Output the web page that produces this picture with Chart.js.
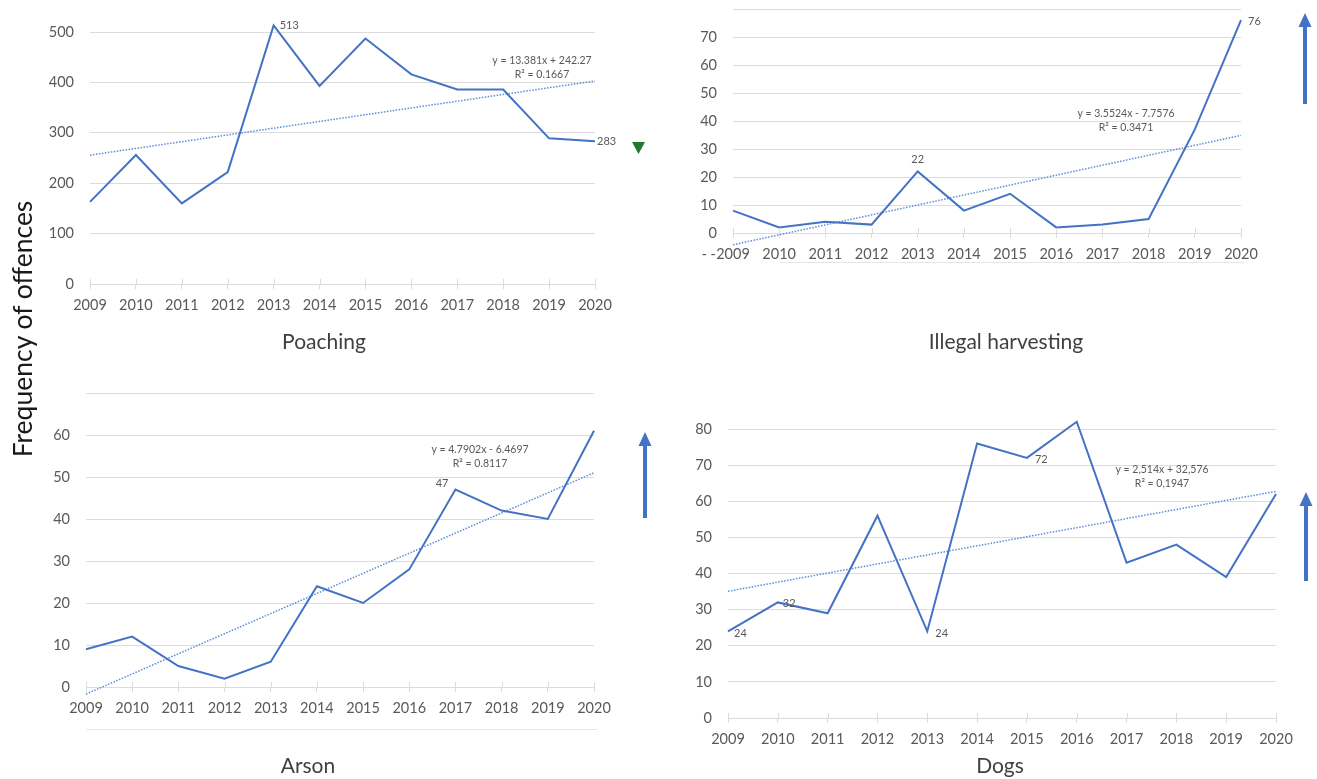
<!DOCTYPE html>
<html>
<head>
<meta charset="utf-8">
<script src="https://cdn.jsdelivr.net/npm/chart.js@4.4.1/dist/chart.umd.min.js"></script>
<style>
  html, body { margin: 0; padding: 0; background: #ffffff; }
  #wrap { position: relative; width: 1317px; height: 779px; overflow: hidden; background: #ffffff; }
  #wrap canvas { position: absolute; left: 0; top: 0; }
  #wrap svg { position: absolute; left: 0; top: 0; }
  #ylab {
    position: absolute; left: 22px; top: 329px;
    transform: translate(-50%, -50%) rotate(-90deg);
    font-family: Lato, sans-serif; font-size: 26.5px; color: #1a1a1a; white-space: nowrap;
  }
</style>
</head>
<body>
<div id="wrap">
  <canvas id="c1" width="1317" height="779"></canvas>
  <canvas id="c2" width="1317" height="779"></canvas>
  <canvas id="c3" width="1317" height="779"></canvas>
  <canvas id="c4" width="1317" height="779"></canvas>
  <div id="ylab">Frequency of offences</div>
  <svg width="1317" height="779" viewBox="0 0 1317 779">
    <!-- trend direction markers -->
    <polygon points="632,142 645,142 638.5,154" fill="#1f7a35"/>
    <line x1="1305" y1="104" x2="1305" y2="24" stroke="#4472c4" stroke-width="4"/>
    <polygon points="1298.5,27 1311.5,27 1305,13" fill="#4472c4"/>
    <line x1="645" y1="518" x2="645" y2="443" stroke="#4472c4" stroke-width="4"/>
    <polygon points="638.5,446 651.5,446 645,432" fill="#4472c4"/>
    <line x1="1306" y1="581" x2="1306" y2="503" stroke="#4472c4" stroke-width="4"/>
    <polygon points="1299.5,506 1312.5,506 1306,492" fill="#4472c4"/>
  </svg>
</div>
<script>
// Offences per year, 2009-2020
const years = ['2009','2010','2011','2012','2013','2014','2015','2016','2017','2018','2019','2020'];
const poaching   = [163, 256, 160, 222, 513, 393, 487, 416, 386, 386, 289, 283];
const harvesting = [8, 2, 4, 3, 22, 8, 14, 2, 3, 5, 37, 76];
const arson      = [9, 12, 5, 2, 6, 24, 20, 28, 47, 42, 40, 61];
const dogs       = [24, 32, 29, 56, 24, 76, 72, 82, 43, 48, 39, 62];

// Linear trendlines (x = 1..12) and their printed equations
const trendSlopes     = [13.381, 3.5524, 4.7902, 2.514];
const trendIntercepts = [242.27, -7.7576, -6.4697, 32.576];
const trendEquations  = ['y = 13.381x + 242.27', 'y = 3.5524x - 7.7576', 'y = 4.7902x - 6.4697', 'y = 2,514x + 32,576'];
const trendR2         = ['R\u00b2 = 0.1667', 'R\u00b2 = 0.3471', 'R\u00b2 = 0.8117', 'R\u00b2 = 0,1947'];

const titles = ['Poaching', 'Illegal harvesting', 'Arson', 'Dogs'];

const FONT = 'Lato, "Noto Sans", sans-serif';
const LINE_BLUE = '#4472c4';
const GRID = '#dcdcdc';
const TICK_TXT = '#595959';

const panelText = {
  id: 'panelText',
  afterDraw(chart, args, o) {
    const ctx = chart.ctx;
    const xs = chart.scales.x, ys = chart.scales.y;
    const series = chart.data.datasets[0].data;
    ctx.save();
    // category tick marks also reach a little above the axis line
    ctx.strokeStyle = GRID;
    ctx.lineWidth = 1;
    ctx.beginPath();
    years.forEach((_, i) => {
      const x = Math.round(xs.getPixelForValue(i)) + 0.5;
      ctx.moveTo(x, xs.top - 5);
      ctx.lineTo(x, xs.top);
    });
    ctx.stroke();
    // extra faint line below the category labels
    if (o.extraLine) {
      ctx.strokeStyle = '#e6e6e6';
      ctx.beginPath();
      ctx.moveTo(o.extraLine.x1, o.extraLine.y + 0.5);
      ctx.lineTo(o.extraLine.x2, o.extraLine.y + 0.5);
      ctx.stroke();
    }
    ctx.fillStyle = TICK_TXT;
    ctx.textBaseline = 'middle';
    // trendline equation
    ctx.font = '10.5px ' + FONT;
    ctx.textAlign = 'center';
    ctx.fillText(o.eq[0], o.eqX, o.eqY);
    ctx.fillText(o.eq[1], o.eqX, o.eqY + 14);
    // value labels on selected points
    ctx.font = '11px ' + FONT;
    o.points.forEach(p => {
      const x = xs.getPixelForValue(p.i);
      const y = ys.getPixelForValue(series[p.i]);
      ctx.textAlign = p.align || 'left';
      ctx.fillText(String(series[p.i]), x + p.dx, y + p.dy);
    });
    // stray dashes before the first category label
    if (o.preDash) {
      ctx.font = '14.5px ' + FONT;
      ctx.textAlign = 'right';
      ctx.fillText('- -', xs.getPixelForValue(0) - 17, xs.top + 21);
    }
    // panel title
    ctx.font = '21px ' + FONT;
    ctx.fillStyle = '#404040';
    ctx.textAlign = 'center';
    ctx.fillText(o.title, o.titleX, o.titleY);
    ctx.restore();
  }
};

function makePanel(id, series, k, cfg) {
  const trend = years.map((_, i) => trendSlopes[k] * (i + 1) + trendIntercepts[k]);
  return new Chart(document.getElementById(id), {
    type: 'line',
    data: {
      labels: years,
      datasets: [
        { data: series, borderColor: LINE_BLUE, borderWidth: 2, pointRadius: 0, tension: 0, clip: false, order: 1 },
        { data: trend, borderColor: '#5b8bd9', borderWidth: 1.5, borderDash: [1.5, 1.5], pointRadius: 0, tension: 0, clip: false, order: 2 }
      ]
    },
    options: {
      responsive: false,
      animation: false,
      events: [],
      layout: { padding: cfg.pad },
      plugins: {
        legend: { display: false },
        tooltip: { enabled: false },
        panelText: {
          title: titles[k], titleX: cfg.titleX, titleY: cfg.titleY,
          eq: [trendEquations[k], trendR2[k]], eqX: cfg.eqX, eqY: cfg.eqY,
          points: cfg.points, preDash: cfg.preDash, extraLine: cfg.extraLine
        }
      },
      scales: {
        x: {
          offset: false,
          grid: { drawOnChartArea: false, drawTicks: true, tickLength: 5, color: GRID },
          border: { display: true, color: GRID, width: 1 },
          ticks: { color: TICK_TXT, font: { family: FONT, size: 14.5 }, padding: 8, maxRotation: 0, autoSkip: false },
          afterFit(s) { s.height = 40; s.paddingLeft = 0; s.paddingRight = 0; }
        },
        y: {
          min: 0, max: cfg.max,
          grid: { color: GRID, drawTicks: false },
          border: { display: false },
          ticks: {
            stepSize: cfg.step, padding: 16, color: TICK_TXT, font: { family: FONT, size: 14.5 },
            callback: v => (cfg.hideTop && v === cfg.max) ? '' : v
          },
          afterFit(s) { s.width = 50; s.paddingTop = 0; s.paddingBottom = 0; }
        }
      }
    },
    plugins: [panelText]
  });
}

// Poaching: plot area x 90..595, y 32..284
makePanel('c1', poaching, 0, {
  pad: { left: 40, top: 32, right: 722, bottom: 455 },
  max: 500, step: 100,
  titleX: 324, titleY: 342, eqX: 542, eqY: 61,
  points: [{ i: 4, dx: 6, dy: 0 }, { i: 11, dx: 2, dy: 0 }]
});

// Illegal harvesting: plot area x 733..1241, y 9..233
makePanel('c2', harvesting, 1, {
  pad: { left: 683, top: 9, right: 76, bottom: 506 },
  max: 80, step: 10, hideTop: true,
  titleX: 1006, titleY: 342, eqX: 1126, eqY: 114,
  points: [{ i: 4, dx: 0, dy: -12, align: 'center' }, { i: 11, dx: 7, dy: 1 }],
  preDash: true,
  extraLine: { y: 262, x1: 780, x2: 1244 }
});

// Arson: plot area x 86..594, y 393..687
makePanel('c3', arson, 2, {
  pad: { left: 36, top: 393, right: 723, bottom: 52 },
  max: 70, step: 10, hideTop: true,
  titleX: 308, titleY: 766, eqX: 480, eqY: 450,
  points: [{ i: 8, dx: -7, dy: -6, align: 'right' }],
  extraLine: { y: 729, x1: 86, x2: 597 }
});

// Dogs: plot area x 728..1276, y 429..718
makePanel('c4', dogs, 3, {
  pad: { left: 678, top: 429, right: 41, bottom: 21 },
  max: 80, step: 10,
  titleX: 1000, titleY: 766, eqX: 1162, eqY: 470,
  points: [
    { i: 0, dx: 6, dy: 2 }, { i: 1, dx: 5, dy: 1 },
    { i: 4, dx: 8, dy: 2 }, { i: 6, dx: 8, dy: 2 }
  ]
});
</script>
</body>
</html>
